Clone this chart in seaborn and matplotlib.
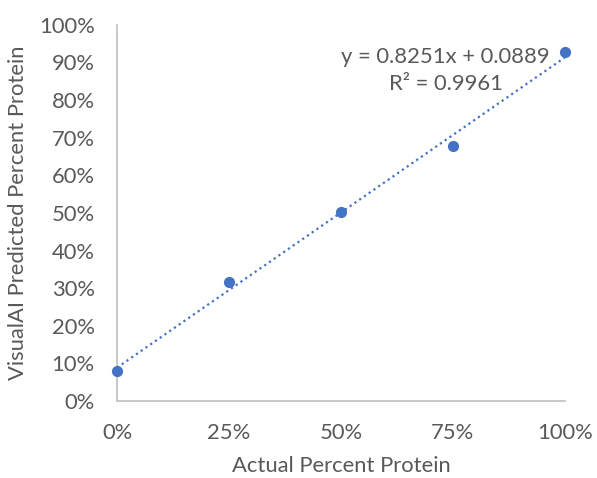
import matplotlib
matplotlib.use("Agg")
import matplotlib.pyplot as plt
import matplotlib.ticker as mtick
import numpy as np
import seaborn as sns

# data
actual = [0.0, 0.25, 0.5, 0.75, 1.0]
predicted = [0.079, 0.316, 0.503, 0.679, 0.928]
eq_text = "y = 0.8251x + 0.0889"
r2_text = "R² = 0.9961"

blue = "#4472C4"
grey = "#595959"
fs = 15.8

sns.set_style("white")
plt.rcParams["font.family"] = ["Lato", "DejaVu Sans"]

fig = plt.figure(figsize=(5.97, 4.78), dpi=100)
ax = fig.add_axes([0.196, 0.161, 0.750, 0.787])

# linear trendline
slope, icpt = np.polyfit(actual, predicted, 1)
xs = np.array([min(actual), max(actual)])
sns.lineplot(x=xs, y=slope * xs + icpt, ax=ax, color=blue, lw=1.6,
             linestyle=(0, (1, 1.6)), zorder=2)
sns.scatterplot(x=actual, y=predicted, ax=ax, color=blue, s=65,
                edgecolor=blue, linewidth=0, zorder=3, clip_on=False)

ax.set_xlim(0, 1)
ax.set_ylim(0, 1)
ax.set_xticks([0, 0.25, 0.5, 0.75, 1.0])
ax.set_yticks(np.arange(0, 1.01, 0.1))
ax.xaxis.set_major_formatter(mtick.PercentFormatter(1.0, decimals=0))
ax.yaxis.set_major_formatter(mtick.PercentFormatter(1.0, decimals=0))
ax.tick_params(axis="both", length=0, labelsize=fs, colors=grey)
ax.tick_params(axis="x", pad=16)
ax.tick_params(axis="y", pad=16)

for s in ["top", "right"]:
    ax.spines[s].set_visible(False)
for s in ["left", "bottom"]:
    ax.spines[s].set_color("#BFBFBF")
    ax.spines[s].set_linewidth(1.2)

ax.set_xlabel("Actual Percent Protein", fontsize=fs, color=grey, labelpad=9)
ax.set_ylabel("VisualAI Predicted Percent Protein", fontsize=fs, color=grey, labelpad=8)

ax.text(0.734, 0.915, eq_text, ha="center", va="center", fontsize=fs, color=grey)
ax.text(0.734, 0.843, r2_text, ha="center", va="center", fontsize=fs, color=grey)

fig.savefig("out.png", dpi=100)
